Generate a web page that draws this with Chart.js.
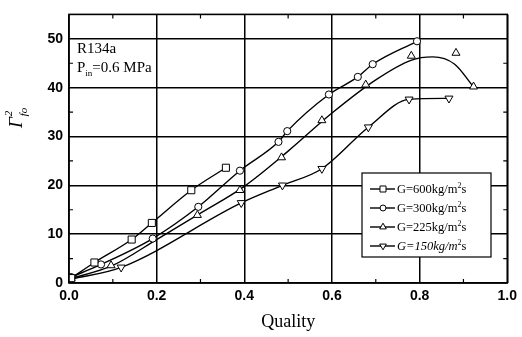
<!DOCTYPE html>
<html lang="en">
<head>
<meta charset="UTF-8">
<meta name="viewport" content="width=device-width, initial-scale=1.0">
<title>Two-phase multiplier vs quality</title>
<style>
  html, body { margin: 0; padding: 0; background: #fff; }
  #wrap { position: relative; width: 522px; height: 337px; }
</style>
</head>
<body>
<div id="wrap"><canvas id="chart" width="522" height="337"></canvas></div>

<script src="https://cdn.jsdelivr.net/npm/chart.js"></script>
<script>
// values (quality, multiplier)
const q600 = [0.005, 0.058, 0.143, 0.189, 0.279, 0.358];
const g600 = [1.0, 4.2, 8.9, 12.3, 19.0, 23.6];

const q300 = [0.005, 0.073, 0.191, 0.295, 0.39, 0.478, 0.498, 0.593, 0.659, 0.693, 0.794];
const g300 = [1.2, 3.8, 9.1, 15.6, 23.0, 28.9, 31.1, 38.6, 42.2, 44.8, 49.5];

const q225 = [0.005, 0.096, 0.293, 0.39, 0.485, 0.577, 0.677, 0.781, 0.883, 0.923];
const g225 = [1.0, 3.6, 13.9, 19.0, 25.7, 33.3, 40.6, 46.5, 47.1, 40.2];
// fitted curve for G=225 (it passes below the last markers)
const fit225q = [0, 0.1, 0.2, 0.3, 0.4, 0.5, 0.6, 0.7, 0.78, 0.83, 0.88, 0.92];
const fit225g = [0.8, 3.6, 8.9, 14.3, 19.8, 27.0, 34.8, 41.6, 45.6, 46.3, 44.8, 40.5];

const q150 = [0.005, 0.119, 0.393, 0.487, 0.577, 0.683, 0.776, 0.867];
const g150 = [0.8, 3.2, 16.4, 20.0, 23.4, 31.9, 37.6, 37.8];

const legendLabels = ["G=600kg/m", "G=300kg/m", "G=225kg/m", "G=150kg/m"];
const xTicks = [0, 0.2, 0.4, 0.6, 0.8, 1.0];
const yTicks = [0, 10, 20, 30, 40, 50];

function pts(xs, ys) {
  return xs.map((v, i) => ({ x: v, y: ys[i] }));
}

const markerBase = {
  borderColor: "#000",
  backgroundColor: "#fff",
  borderWidth: 1,
  showLine: false,
  order: 0,
};
const lineBase = {
  borderColor: "#000",
  borderWidth: 1.4,
  pointRadius: 0,
  showLine: true,
  fill: false,
  cubicInterpolationMode: "monotone",
  order: 1,
};

// line styles for legend symbols
const symbols = [
  { style: "rect", r: 5, rot: 0 },
  { style: "circle", r: 3.5, rot: 0 },
  { style: "triangle", r: 4.5, rot: 0 },
  { style: "triangle", r: 4.5, rot: 180 },
];

const decor = {
  id: "decor",
  afterDraw(chart) {
    const ctx = chart.ctx;
    const a = chart.chartArea;
    const x = chart.scales.x;
    const y = chart.scales.y;
    ctx.save();

    // frame
    ctx.strokeStyle = "#000";
    ctx.lineWidth = 1.6;
    ctx.strokeRect(a.left, a.top, a.right - a.left, a.bottom - a.top);

    // minor ticks, inward on all sides
    ctx.lineWidth = 1.2;
    ctx.beginPath();
    for (let v = 0.1; v < 1; v += 0.2) {
      const px = x.getPixelForValue(v);
      ctx.moveTo(px, a.bottom); ctx.lineTo(px, a.bottom - 4);
      ctx.moveTo(px, a.top); ctx.lineTo(px, a.top + 4);
    }
    for (let v = 5; v < 55; v += 10) {
      const py = y.getPixelForValue(v);
      ctx.moveTo(a.left, py); ctx.lineTo(a.left + 4, py);
      ctx.moveTo(a.right, py); ctx.lineTo(a.right - 4, py);
    }
    ctx.stroke();

    // refrigerant / pressure note
    ctx.fillStyle = "#000";
    ctx.textBaseline = "alphabetic";
    ctx.textAlign = "left";
    ctx.font = "15px 'Liberation Serif', serif";
    ctx.fillText("R134a", 77, 53);
    ctx.fillText("P", 77, 72);
    let w = ctx.measureText("P").width;
    ctx.font = "9px 'Liberation Serif', serif";
    ctx.fillText("in", 77 + w, 76);
    const w2 = ctx.measureText("in").width;
    ctx.font = "15px 'Liberation Serif', serif";
    ctx.fillText("=0.6 MPa", 77 + w + w2, 72);

    // y axis title: Gamma^2 fo, rotated
    ctx.save();
    ctx.translate(22, 128);
    ctx.rotate(-Math.PI / 2);
    ctx.font = "italic 19px 'Liberation Serif', serif";
    ctx.fillText("\u0393", 0, 0);
    const gw = ctx.measureText("\u0393").width;
    ctx.font = "italic 11px 'Liberation Serif', serif";
    ctx.fillText("2", gw + 1, -10);
    ctx.fillText("fo", gw + 1, 5);
    ctx.restore();

    // legend box
    const lx = 362, ly = 173, lw = 129, lh = 84;
    ctx.fillStyle = "#fff";
    ctx.fillRect(lx, ly, lw, lh);
    ctx.lineWidth = 1.2;
    ctx.strokeRect(lx, ly, lw, lh);
    for (let i = 0; i < legendLabels.length; i++) {
      const cy = ly + 16 + i * 19;
      ctx.strokeStyle = "#000";
      ctx.lineWidth = 1.4;
      ctx.beginPath();
      ctx.moveTo(370, cy); ctx.lineTo(395, cy);
      ctx.stroke();
      ctx.fillStyle = "#fff";
      ctx.lineWidth = 1;
      Chart.helpers.drawPoint(ctx, {
        pointStyle: symbols[i].style,
        radius: symbols[i].r * 0.85,
        rotation: symbols[i].rot,
        borderWidth: 1,
      }, 383, cy);
      ctx.fillStyle = "#000";
      ctx.font = (i === 3 ? "italic " : "") + "12.5px 'Liberation Serif', serif";
      ctx.fillText(legendLabels[i], 397, cy + 4);
      const tw = ctx.measureText(legendLabels[i]).width;
      ctx.font = "8px 'Liberation Serif', serif";
      ctx.fillText("2", 397 + tw, cy - 1);
      ctx.font = "12.5px 'Liberation Serif', serif";
      ctx.fillText("s", 397 + tw + 4, cy + 4);
    }
    ctx.restore();
  },
};

const ctx = document.getElementById("chart").getContext("2d");
new Chart(ctx, {
  type: "scatter",
  data: {
    datasets: [
      Object.assign({}, lineBase, { label: "600 line", data: pts(q600, g600) }),
      Object.assign({}, lineBase, { label: "300 line", data: pts(q300, g300) }),
      Object.assign({}, lineBase, { label: "225 fit", data: pts(fit225q, fit225g) }),
      Object.assign({}, lineBase, { label: "150 line", data: pts(q150, g150) }),
      Object.assign({}, markerBase, { label: legendLabels[0], data: pts(q600, g600), pointStyle: "rect", pointRadius: 5 }),
      Object.assign({}, markerBase, { label: legendLabels[1], data: pts(q300, g300), pointStyle: "circle", pointRadius: 3.6 }),
      Object.assign({}, markerBase, { label: legendLabels[2], data: pts(q225, g225), pointStyle: "triangle", pointRadius: 4.6 }),
      Object.assign({}, markerBase, { label: legendLabels[3], data: pts(q150, g150), pointStyle: "triangle", pointRotation: 180, pointRadius: 4.6 }),
    ],
  },
  options: {
    responsive: false,
    animation: false,
    events: [],
    layout: { padding: { top: 5, right: 11, left: 0, bottom: 0 } },
    plugins: {
      legend: { display: false },
      tooltip: { enabled: false },
    },
    scales: {
      x: {
        type: "linear",
        min: 0,
        max: 1,
        afterFit: (s) => { s.height = 54; },
        afterBuildTicks: (s) => { s.ticks = xTicks.map((v) => ({ value: v })); },
        grid: { color: "#000", lineWidth: 1.5, drawTicks: false },
        border: { display: false },
        ticks: {
          color: "#000",
          padding: 5,
          font: { family: "'Liberation Sans', Arial, sans-serif", size: 14, weight: "bold" },
          callback: (v) => v.toFixed(1),
        },
        title: {
          display: true,
          text: "Quality",
          color: "#000",
          padding: { top: 4, bottom: 4 },
          font: { family: "'Liberation Serif', serif", size: 18 },
        },
      },
      y: {
        type: "linear",
        min: 0,
        max: 55,
        afterFit: (s) => { s.width = 69; },
        afterBuildTicks: (s) => { s.ticks = yTicks.map((v) => ({ value: v })); },
        grid: { color: "#000", lineWidth: 1.5, drawTicks: false },
        border: { display: false },
        ticks: {
          color: "#000",
          padding: 6,
          font: { family: "'Liberation Sans', Arial, sans-serif", size: 14, weight: "bold" },
        },
      },
    },
  },
  plugins: [decor],
});
</script>
</body>
</html>
